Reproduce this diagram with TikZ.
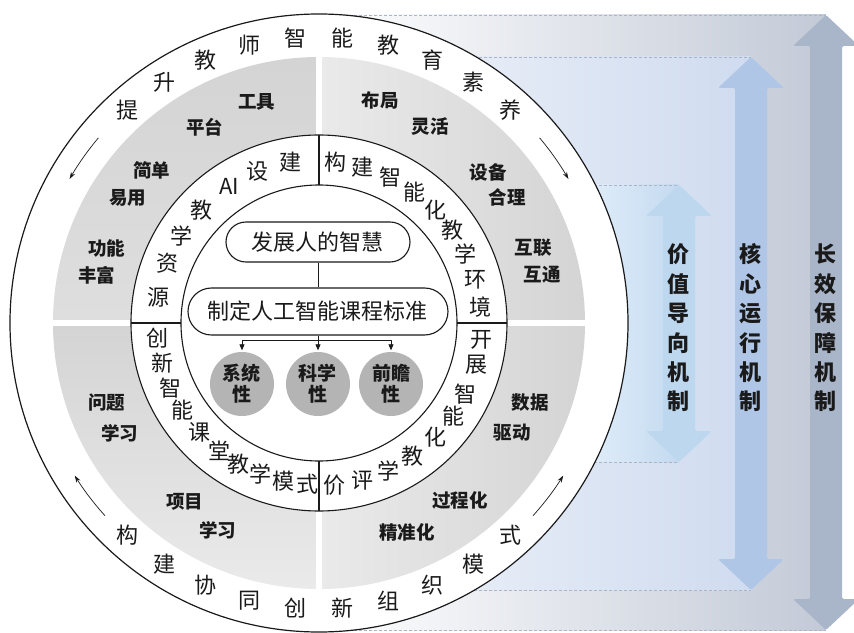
\documentclass[tikz,border=0pt]{standalone}
\usepackage{fontspec}
\setmainfont{Noto Sans CJK SC}
\usetikzlibrary{arrows.meta}
\definecolor{bigc}{HTML}{C3CAD7}
\definecolor{midL}{HTML}{F3F6FB}
\definecolor{midc}{HTML}{CFDBEF}
\definecolor{smlL}{HTML}{E0EDF9}
\definecolor{smlc}{HTML}{C4DAF0}
\definecolor{bigarr}{HTML}{A9B5C9}
\definecolor{midarr}{HTML}{AFC6E6}
\definecolor{smlarr}{HTML}{BCD7EE}
\definecolor{dashc}{HTML}{AEB4C2}
\definecolor{bandD}{HTML}{D4D4D4}
\definecolor{bandM}{HTML}{DEDEDE}
\definecolor{bandL}{HTML}{EAEAEA}
\definecolor{ballc}{HTML}{B4B4B4}
\definecolor{inkc}{HTML}{1A1A1A}
\newcommand{\mechArrow}[4]{%
  \fill[#1, rounded corners=1.5pt] (#2,#3) -- ({#2+33},{#3-31}) -- ({#2+16},{#3-31})
    -- ({#2+16},{#4+31}) -- ({#2+33},{#4+31}) -- (#2,#4) -- ({#2-33},{#4+31})
    -- ({#2-16},{#4+31}) -- ({#2-16},{#3-31}) -- ({#2-33},{#3-31}) -- cycle;}
\tikzset{
  outtxt/.style={font=\fontsize{22}{22}\selectfont, text=inkc, inner sep=0pt},
  ringtxt/.style={font=\fontsize{22}{22}\selectfont, text=inkc, inner sep=0pt},
  bandtxt/.style={font=\bfseries\fontsize{18.5}{18.5}\selectfont, text=inkc, inner sep=0pt},
  capbox/.style={draw=inkc, line width=1.1pt, fill=white, inner sep=0pt,
    font=\fontsize{22}{22}\selectfont, text=inkc},
  ball/.style={circle, fill=ballc, minimum size=64pt, inner sep=0pt, align=center,
    font=\bfseries\fontsize{19}{21}\selectfont, text=inkc},
  conn/.style={draw=inkc, line width=0.8pt},
  tipd/.style={-{Triangle[length=6pt,width=5pt]}, shorten >=1.5pt},
  mechtxt/.style={font=\bfseries\fontsize{22}{29.4}\selectfont, align=center, text=inkc, inner sep=0pt},
  dashln/.style={draw=dashc, line width=0.5pt, dash pattern=on 3pt off 2pt},
  flowarr/.style={draw=inkc, line width=0.7pt, -{Stealth[length=7pt,width=4.5pt]}},
  ringline/.style={draw=inkc, line width=1.1pt}
}
\begin{document}
\begin{tikzpicture}[x=1pt, y=1pt, line join=round]
\useasboundingbox (-319,-309) rectangle (535,323);
% background regions
\shade[left color=white, right color=bigc] (0,-307) rectangle (507,308);
\shade[left color=midL, right color=midc] (0,-267) rectangle (432,266);
\shade[left color=smlL, right color=smlc] (270,-139) rectangle (360,138);
\draw[dashln] (0,308) -- (507,308);
\draw[dashln] (0,-307) -- (507,-307);
\draw[dashln] (0,266) -- (432,266);
\draw[dashln] (0,-267) -- (432,-267);
\draw[dashln] (0,138) -- (360,138);
\draw[dashln] (0,-139) -- (360,-139);
% mechanism arrows
\mechArrow{bigarr}{507}{308}{-307}
\mechArrow{midarr}{432}{266}{-267}
\mechArrow{smlarr}{360}{138}{-139}
\node[mechtxt] (m1) at (359,-5) {价\\值\\导\\向\\机\\制};
\node[mechtxt] (m2) at (431,-5) {核\\心\\运\\行\\机\\制};
\node[mechtxt] (m3) at (506,-5) {长\\效\\保\\障\\机\\制};
% outer circle
\draw[ringline, line width=1.2pt, fill=white] (0,0) circle (309);
% gray band quadrants
\shade[left color=bandL, right color=bandD] (0:188) arc[start angle=0, end angle=90, radius=188] -- (90:266) arc[start angle=90, end angle=0, radius=266] -- cycle;
\shade[top color=bandD, bottom color=bandM] (90:188) arc[start angle=90, end angle=180, radius=188] -- (180:266) arc[start angle=180, end angle=90, radius=266] -- cycle;
\shade[top color=bandD, bottom color=bandL] (180:188) arc[start angle=180, end angle=270, radius=188] -- (270:266) arc[start angle=270, end angle=180, radius=266] -- cycle;
\shade[left color=bandL, right color=bandD] (270:188) arc[start angle=270, end angle=360, radius=188] -- (360:266) arc[start angle=360, end angle=270, radius=266] -- cycle;
\draw[white, line width=6pt] (0,185) -- (0,270);
\draw[white, line width=6pt] (0,-185) -- (0,-270);
\draw[white, line width=6pt] (185,0) -- (270,0);
\draw[white, line width=6pt] (-185,0) -- (-270,0);
% middle ring
\draw[ringline, fill=white] (0,0) circle (188);
\draw[ringline] (0,0) circle (138);
\draw[ringline] (0,138) -- (0,188);
\draw[ringline] (0,-138) -- (0,-188);
\draw[ringline] (138,0) -- (188,0);
\draw[ringline] (-138,0) -- (-188,0);
% outer ring texts
\foreach \c [count=\i] in {提,升,教,师,智,能,教,育,素,养}
  \node[outtxt] (ot\i) at ({132-(\i-1)*9.333}:286) {\c};
\foreach \c [count=\i] in {构,建,协,同,创,新,组,织,模,式}
  \node[outtxt] (ob\i) at ({228+(\i-1)*9.333}:286) {\c};
% small flow arrows
\draw[flowarr] (140:288) arc[start angle=140, end angle=150, radius=288];
\draw[flowarr] (40:288) arc[start angle=40, end angle=30, radius=288];
\draw[flowarr] (222:288) arc[start angle=222, end angle=212, radius=288];
\draw[flowarr] (318:288) arc[start angle=318, end angle=328, radius=288];
% middle ring texts
\foreach \a/\c [count=\i] in {100/建,112/设,123.4/AI,136/教,147.7/学,158.5/资,170.9/源}
  \node[ringtxt] (rl\i) at (\a:163) {\c};
\foreach \a/\c [count=\i] in {84.3/构,74.3/建,63.9/智,54/能,44.2/化,34.8/教,25.3/学,15.4/环,5.7/境}
  \node[ringtxt] (rr\i) at (\a:162) {\c};
\foreach \a/\c [count=\i] in {185.3/创,194.4/新,203.6/智,212.6/能,222.3/课,231.9/堂,240.3/教,249/学,257.2/模,265.8/式}
  \node[ringtxt] (rb\i) at (\a:162) {\c};
\foreach \a/\c [count=\i] in {-6/开,-14.9/展,-25.9/智,-34.7/能,-44.5/化,-54.9/教,-64.9/学,-74.5/评,-84.4/价}
  \node[ringtxt] (rc\i) at (\a:163) {\c};
% gray band labels
\node[bandtxt] (g1) at (-62,221) {工具};
\node[bandtxt] (g2) at (-114,196) {平台};
\node[bandtxt] (g3) at (-167,153) {简单};
\node[bandtxt] (g4) at (-191,125) {易用};
\node[bandtxt] (g5) at (-212,75) {功能};
\node[bandtxt] (g6) at (-222,48) {丰富};
\node[bandtxt] (g7) at (61,223) {布局};
\node[bandtxt] (g8) at (111,196) {灵活};
\node[bandtxt] (g9) at (169,151) {设备};
\node[bandtxt] (g10) at (188,126) {合理};
\node[bandtxt] (g11) at (214,75) {互联};
\node[bandtxt] (g12) at (223,48) {互通};
\node[bandtxt] (g13) at (-212,-80) {问题};
\node[bandtxt] (g14) at (-199,-110) {学习};
\node[bandtxt] (g15) at (-134,-179) {项目};
\node[bandtxt] (g16) at (-101,-207) {学习};
\node[bandtxt] (g17) at (211,-80) {数据};
\node[bandtxt] (g18) at (193,-110) {驱动};
\node[bandtxt] (g19) at (141,-177) {过程化};
\node[bandtxt] (g20) at (88,-209) {精准化};
% center
\node[capbox, minimum width=184pt, minimum height=40pt, rounded corners=20pt] (b1) at (-1,81) {发展人的智慧};
\node[capbox, minimum width=260pt, minimum height=47pt, rounded corners=23.5pt] (b2) at (-1,11.5) {制定人工智能课程标准};
\draw[conn] (b1) -- (b2);
\node[ball] (c1) at (-77,-61) {系统\\性};
\node[ball] (c2) at (-1,-61) {科学\\性};
\node[ball] (c3) at (72,-61) {前瞻\\性};
\coordinate (jn) at (-1,-17);
\draw[conn] (b2) -- (jn);
\draw[conn, tipd] (jn) -| (c1);
\draw[conn, tipd] (jn) -- (c2);
\draw[conn, tipd] (jn) -| (c3);
\end{tikzpicture}
\end{document}
